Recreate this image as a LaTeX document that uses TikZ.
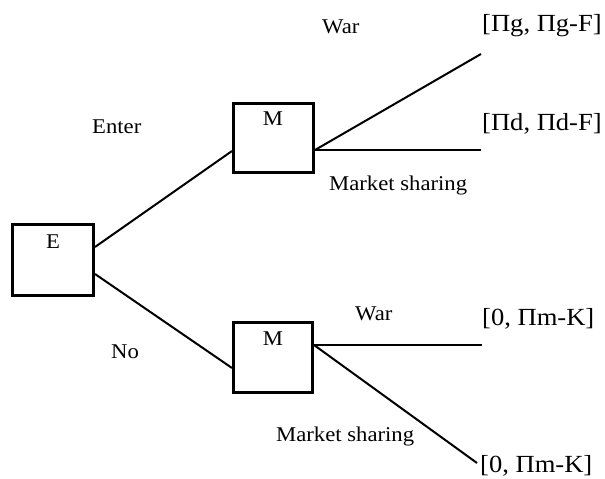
\documentclass[tikz,border=0pt]{standalone}
\usepackage{fontspec}
\setmainfont{Liberation Serif}[FakeStretch=1.08]
\begin{document}
\begin{tikzpicture}[x=1pt,y=-1pt,
  decision/.style={draw,line width=3pt,rectangle,inner sep=0pt},
  branch/.style={line width=2pt},
  movelbl/.style={inner sep=0pt,anchor=base west,font=\fontsize{21}{24}\selectfont},
  boxlbl/.style={inner sep=0pt,anchor=base,font=\fontsize{21}{24}\selectfont},
  payoff/.style={inner sep=0pt,anchor=base west,font=\fontsize{24.6}{28}\selectfont}]
  \useasboundingbox (0,0) rectangle (605,479);

  % decision nodes
  \node[decision,minimum width=81pt,minimum height=71pt] (E) at (53,260) {};
  \node[decision,minimum width=80pt,minimum height=69pt] (M1) at (273.5,138) {};
  \node[decision,minimum width=79pt,minimum height=70pt] (M2) at (273,357.5) {};
  \node[boxlbl] (Elbl) at (53,248) {E};
  \node[boxlbl] (M1lbl) at (273,125) {M};
  \node[boxlbl] (M2lbl) at (273,345) {M};

  % free ends of the terminal branches
  \coordinate (war1) at (481,54);
  \coordinate (share1) at (481,150);
  \coordinate (war2) at (482,345);
  \coordinate (share2) at (477,463);

  % branches
  \draw[branch] ([yshift=13pt]E.east) -- ([yshift=-13pt]M1.west);
  \draw[branch] ([yshift=-14pt]E.east) -- ([yshift=-10.5pt]M2.west);
  \draw[branch] ([yshift=-12pt]M1.east) -- (war1);
  \draw[branch] ([yshift=-12pt]M1.east) -- (share1);
  \draw[branch] ([yshift=12.5pt]M2.east) -- (war2);
  \draw[branch] ([yshift=12.5pt]M2.east) -- (share2);

  % move labels
  \node[movelbl] (enter) at (92,133) {Enter};
  \node[movelbl] (no) at (111,358) {No};
  \node[movelbl] (warA) at (322,33) {War};
  \node[movelbl] (shareA) at (329,190) {Market sharing};
  \node[movelbl] (warB) at (355,320) {War};
  \node[movelbl] (shareB) at (276,441) {Market sharing};

  % payoffs
  \node[payoff] (payA) at (482,31) {[Πg, Πg-F]};
  \node[payoff] (payB) at (482,130) {[Πd, Πd-F]};
  \node[payoff] (payC) at (482,325) {[0, Πm-K]};
  \node[payoff] (payD) at (480,472) {[0, Πm-K]};
\end{tikzpicture}
\end{document}
